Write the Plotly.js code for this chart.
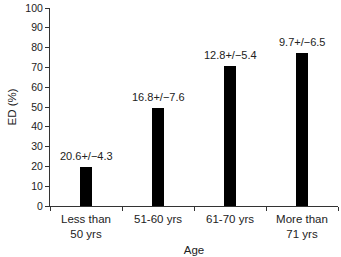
<!DOCTYPE html>
<html>
<head>
<meta charset="utf-8">
<script src="https://cdn.plot.ly/plotly-3.0.1.min.js"></script>
<style>html,body{margin:0;padding:0;background:#fff;}#chart{width:341px;height:257px;}</style>
</head>
<body>
<div id="chart"></div>
<script>
var categories = ["Less than<br>50 yrs", "51-60 yrs", "61-70 yrs", "More than<br>71 yrs"];
var edValues = [19.8, 49.4, 70.8, 77.4];
var barLabels = ["20.6+/\u22124.3", "16.8+/\u22127.6", "12.8+/\u22125.4", "9.7+/\u22126.5"];

var fam = "Liberation Sans, Arial, sans-serif";
var col = "#222";

var trace = {
  type: "bar",
  x: categories,
  y: edValues,
  width: 0.18,
  marker: {color: "#000"},
  hoverinfo: "none"
};

var annotations = categories.map(function (c, i) {
  return {
    x: c, y: edValues[i], xref: "x", yref: "y",
    text: barLabels[i], showarrow: false,
    yanchor: "middle", yshift: 11,
    font: {family: fam, size: 11, color: col}
  };
});

var layout = {
  width: 341, height: 257,
  margin: {l: 50, r: 3, t: 8, b: 51},
  paper_bgcolor: "#fff", plot_bgcolor: "#fff",
  font: {family: fam, size: 11, color: col},
  showlegend: false,
  bargap: 0,
  xaxis: {
    type: "category",
    range: [-0.5, 3.5],
    showline: true, linecolor: "#333", linewidth: 1,
    ticks: "outside", ticklen: 4, tickcolor: "#333",
    tickson: "boundaries",
    ticklabelstandoff: 2,
    showgrid: false, zeroline: false,
    title: {text: "Age", font: {family: fam, size: 11.5, color: col}, standoff: 7},
    tickfont: {family: fam, size: 11.5, color: col}
  },
  yaxis: {
    range: [0, 100],
    dtick: 10,
    showline: true, linecolor: "#333", linewidth: 1,
    ticks: "outside", ticklen: 4, tickcolor: "#333",
    showgrid: false, zeroline: false,
    title: {text: "ED (%)", font: {family: fam, size: 11.5, color: col}, standoff: 6},
    tickfont: {family: fam, size: 10.5, color: col}
  },
  annotations: annotations
};

Plotly.newPlot("chart", [trace], layout, {displayModeBar: false, staticPlot: true});
</script>
</body>
</html>
